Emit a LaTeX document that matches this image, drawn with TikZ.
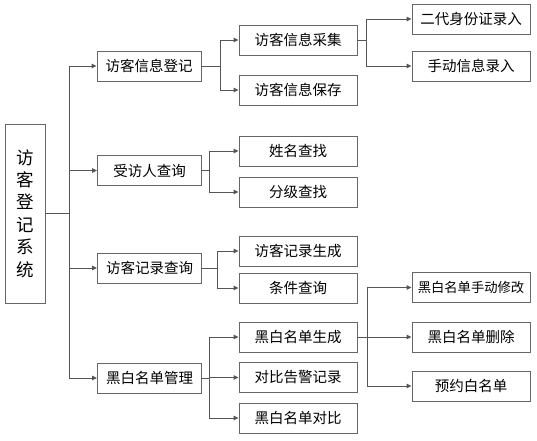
\documentclass[tikz,border=0pt]{standalone}
\usepackage{fontspec}
\setmainfont{Noto Sans CJK SC}
\usetikzlibrary{arrows.meta}
\definecolor{linec}{HTML}{555555}
\definecolor{boxc}{HTML}{666666}
\tikzset{
  box/.style={draw=boxc, line width=0.9pt, fill=white, inner sep=0pt, font=\fontsize{14.5}{16}\selectfont, text=black},
  lone/.style={box, minimum width=104pt, minimum height=30pt},
  ltwo/.style={box, minimum width=118pt, minimum height=30pt},
  lthree/.style={box, minimum width=118pt, minimum height=30pt},
  conn/.style={draw=linec, line width=0.9pt},
  arr/.style={conn, -{Triangle[length=5pt,width=4.5pt]}},
}
\begin{document}
\begin{tikzpicture}[x=1pt,y=-1pt]
\useasboundingbox (0,0) rectangle (537,440);
% root
\node[box, minimum width=40pt, minimum height=179pt, font=\fontsize{17.5}{22.4}\selectfont, align=center] (root) at (25,213.5) {访\\客\\登\\记\\系\\统};
% level 1
\node[lone] (a) at (149,66) {访客信息登记};
\node[lone] (b) at (149.5,170.5) {受访人查询};
\node[lone] (c) at (149.5,268) {访客记录查询};
\node[lone] (d) at (149.5,378) {黑白名单管理};
% level 2
\node[ltwo] (a1) at (298,40) {访客信息采集};
\node[ltwo] (a2) at (298,90) {访客信息保存};
\node[ltwo] (b1) at (298,151) {姓名查找};
\node[ltwo] (b2) at (298,192) {分级查找};
\node[ltwo] (c1) at (298,251) {访客记录生成};
\node[ltwo] (c2) at (298,288) {条件查询};
\node[ltwo] (d1) at (298,337) {黑白名单生成};
\node[ltwo] (d2) at (298,377.5) {对比告警记录};
\node[ltwo] (d3) at (298,418) {黑白名单对比};
% level 3
\node[lthree] (a11) at (471,19) {二代身份证录入};
\node[lthree] (a12) at (471,66) {手动信息录入};
\node[lthree, font=\fontsize{13.3}{15}\selectfont] (d11) at (471,287.5) {黑白名单手动修改};
\node[lthree] (d12) at (471,337) {黑白名单删除};
\node[lthree] (d13) at (471,386) {预约白名单};
% buses
\coordinate (r0) at (69,213.5);
\coordinate (pa) at (220,66);
\coordinate (pb) at (209,170.5);
\coordinate (pc) at (217,268);
\coordinate (pd) at (209,378);
\coordinate (pa1) at (366,40);
\coordinate (pd1) at (367,337);
% connectors
\draw[conn] (root.east) -- (r0);
\foreach \t in {a,b,c,d} \draw[arr] (r0) |- (\t.west);
\draw[conn] (a.east) -- (pa);
\foreach \t in {a1,a2} \draw[arr] (pa) |- (\t.west);
\draw[conn] (b.east) -- (pb);
\foreach \t in {b1,b2} \draw[arr] (pb) |- (\t.west);
\draw[conn] (c.east) -- (pc);
\foreach \t in {c1,c2} \draw[arr] (pc) |- (\t.west);
\draw[conn] (d.east) -- (pd);
\foreach \t in {d1,d2,d3} \draw[arr] (pd) |- (\t.west);
\draw[conn] (a1.east) -- (pa1);
\foreach \t in {a11,a12} \draw[arr] (pa1) |- (\t.west);
\draw[conn] (d1.east) -- (pd1);
\foreach \t in {d11,d12,d13} \draw[arr] (pd1) |- (\t.west);
\end{tikzpicture}
\end{document}
